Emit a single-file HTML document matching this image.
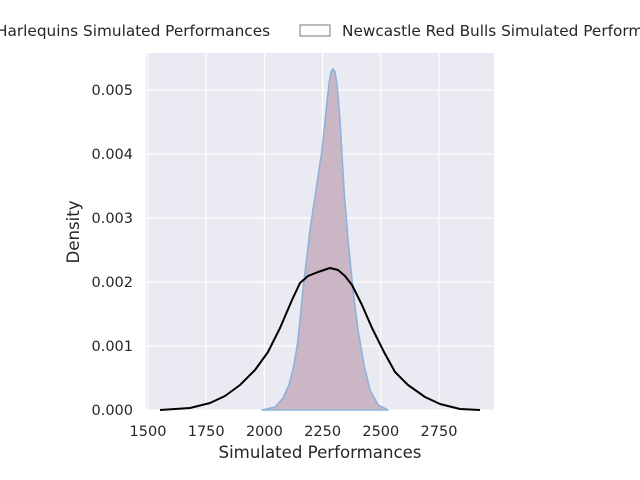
<!DOCTYPE html>
<html><head><style>body{margin:0;background:#fff}svg{display:block}text{font-family:"DejaVu Sans","Liberation Sans",sans-serif;fill:#262626}</style></head><body>
<svg width="640" height="480" viewBox="0 0 640 480">
<rect x="146" y="53" width="348" height="357" fill="#eaeaf2"/>
<g stroke="#fff" stroke-width="1.2">
<line x1="148" y1="53" x2="148" y2="410"/><line x1="206.2" y1="53" x2="206.2" y2="410"/><line x1="264.4" y1="53" x2="264.4" y2="410"/><line x1="322.6" y1="53" x2="322.6" y2="410"/><line x1="380.8" y1="53" x2="380.8" y2="410"/><line x1="439" y1="53" x2="439" y2="410"/>
<line x1="146" y1="410" x2="494" y2="410"/><line x1="146" y1="346" x2="494" y2="346"/><line x1="146" y1="282" x2="494" y2="282"/><line x1="146" y1="218" x2="494" y2="218"/><line x1="146" y1="154" x2="494" y2="154"/><line x1="146" y1="90" x2="494" y2="90"/>
</g>
<path d="M262,410 L275,407 L283,398 L289,385 L294,365 L298,340 L303,290 L310,230 L316,190 L322,150 L326,112 L329,84 L331,72 L333,69 L335,72 L337,84 L340,120 L344,190 L348,240 L353,290 L358,330 L364,365 L370,390 L378,405 L388,410 Z" fill="#cbb6c5" stroke="#8fb2dc" stroke-width="1.6" stroke-linejoin="round"/>
<path d="M160,410 L190,408 L210,403 L225,396 L240,385 L255,370 L268,352 L280,328 L292,300 L300,283 L308,276 L318,272 L330,268 L338,270 L345,276 L352,285 L362,305 L372,328 L384,352 L395,372 L408,385 L425,397 L440,404 L460,409 L480,410" fill="none" stroke="#000" stroke-width="2" stroke-linejoin="round"/>
<g font-size="14.5" text-anchor="middle">
<text x="148" y="436">1500</text><text x="206.2" y="436">1750</text><text x="264.4" y="436">2000</text><text x="322.6" y="436">2250</text><text x="380.8" y="436">2500</text><text x="439" y="436">2750</text>
</g>
<g font-size="14.5" text-anchor="end">
<text x="133" y="415">0.000</text><text x="133" y="351">0.001</text><text x="133" y="287">0.002</text><text x="133" y="223">0.003</text><text x="133" y="159">0.004</text><text x="133" y="95">0.005</text>
</g>
<text x="320" y="458" font-size="16.6" text-anchor="middle">Simulated Performances</text>
<text transform="translate(79,232) rotate(-90)" font-size="16.6" text-anchor="middle">Density</text>
<text x="-4" y="36" font-size="15.3">Harlequins Simulated Performances</text>
<rect x="300" y="25" width="30" height="11" fill="#fff" stroke="#777"/>
<text x="342" y="36" font-size="15.3">Newcastle Red Bulls Simulated Performances</text>
</svg>
</body></html>
